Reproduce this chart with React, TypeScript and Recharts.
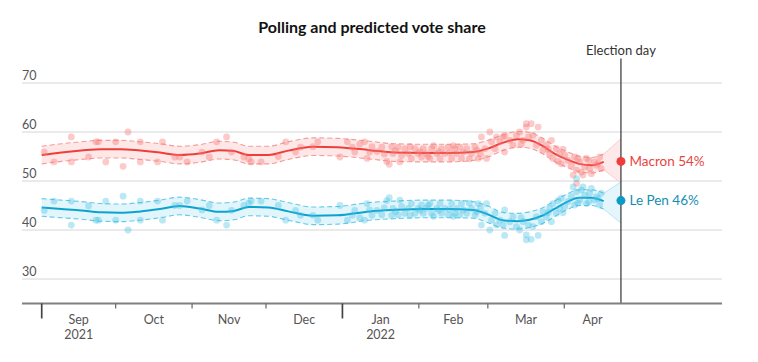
import React from 'react';
import { ComposedChart, Line, Area, XAxis, YAxis, CartesianGrid, ReferenceLine, ReferenceDot } from 'recharts';

// Days counted from 1 Sep 2021
const monthStarts = [0, 30, 61, 91, 122, 153, 181, 212];
const yearStarts = [0, 122];
const monthLabelDays = [15, 45.5, 76, 106.5, 137.5, 167, 196.5, 223.5];
const monthLabels = ['Sep', 'Oct', 'Nov', 'Dec', 'Jan', 'Feb', 'Mar', 'Apr'];
const yearLabels = ['2021', '', '', '', '2022', '', '', ''];
const yTicks = [30, 40, 50, 60, 70];
const electionDay = 235;

const trendDays = [0, 8, 16, 24, 32, 40, 48, 56, 64, 72, 78, 84, 92, 100, 110, 120, 133, 143, 155, 165, 175, 181, 187, 193, 198, 203, 208, 213, 218, 223, 228];
const macronTrend = [55.3, 55.8, 56.2, 56.5, 56.5, 56.2, 55.8, 55.3, 55.6, 56.3, 56.1, 55.3, 55.3, 56.2, 57.0, 56.9, 56.3, 55.8, 55.7, 55.7, 55.9, 56.6, 57.8, 58.5, 58.3, 57.2, 55.6, 54.4, 53.5, 53.2, 53.9];
const lePenTrend = [44.6, 44.3, 44.0, 43.6, 43.5, 43.8, 44.3, 44.9, 44.4, 43.7, 43.9, 44.7, 44.6, 43.8, 42.9, 43.0, 43.8, 44.1, 44.3, 44.3, 44.1, 43.2, 42.0, 41.8, 42.1, 42.9, 44.3, 45.7, 46.6, 46.6, 45.9];
const macronBandHalf = [1.8, 1.8, 1.8, 1.8, 1.8, 1.8, 1.8, 1.8, 1.8, 1.8, 1.8, 1.8, 1.8, 1.8, 1.8, 1.8, 1.8, 1.8, 1.8, 1.8, 1.7, 1.7, 1.6, 1.6, 1.6, 1.6, 1.6, 1.6, 1.6, 1.6, 1.6];
const lePenBandHalf = [1.8, 1.8, 1.8, 1.8, 1.8, 1.8, 1.8, 1.8, 1.8, 1.8, 1.8, 1.8, 1.8, 1.8, 1.8, 1.8, 1.8, 1.8, 1.8, 1.8, 1.7, 1.7, 1.6, 1.6, 1.6, 1.6, 1.6, 1.6, 1.6, 1.6, 1.6];

const pollDays = [1, 5, 12, 12, 19, 22, 23, 26, 30, 33, 35, 40, 40, 47, 49, 54, 56, 59, 65, 68, 71, 75, 77, 82, 84, 85, 89,
  96, 99, 103, 105, 110, 112, 121, 124, 126, 127, 129, 131, 132, 133, 134, 136, 138, 139, 140, 141, 142,
  142.5, 143.5, 144.6, 145.3, 146, 147.3, 148.7, 149.5, 150, 151.4, 152.7, 153.5, 154.1, 154.8, 156.1, 156.8, 157.5, 158.2, 159, 160.2, 161, 161.6, 162.2, 163.6, 164.9, 165.5, 166.3, 167, 167.6, 168.3, 169.6, 170.3, 171, 172.4, 173.5, 174.4, 175.8, 176.5, 177.1, 178, 178.4, 179.8, 180.5,
  181.8, 182.5, 183.9, 184.5, 185.9, 187.2, 187.8, 187.8, 189.9, 191.2, 192.6, 193.9, 194.5, 195.3, 196.6, 196.6, 197.5, 198.6, 199.3, 200.7, 201.4, 202.7, 203.4, 204.7, 205.5, 206.1, 206.8, 207.4, 208.8, 209.5, 210.1, 210.8, 211.5,
  212.2, 213.5, 214.9, 215.6, 216.2, 216.9, 217, 217.5, 218.3, 218.9, 219.6, 220.3, 221, 222, 222.3, 223, 224.3, 225, 225.8, 226.4, 227];
const macronPolls = [55.9, 53.9, 59.0, 53.9, 54.9, 58.0, 58.0, 53.9, 58.0, 53.0, 60.0, 58.0, 53.9, 53.9, 58.0, 54.9, 54.9, 53.9, 55.9, 54.9, 58.0, 59.0, 55.9, 54.9, 54.5, 53.9, 53.9,
  55.0, 58.0, 55.9, 56.9, 57.0, 58.0, 54.9, 58.0, 56.9, 55.9, 57.5, 58.0, 54.6, 55.9, 57.0, 56.0, 56.9, 55.5, 54.0, 53.4, 57.0,
  55.6, 56.2, 56.9, 53.9, 55.2, 56.6, 55.6, 57.0, 54.6, 56.6, 55.6, 56.0, 54.9, 56.6, 55.6, 55.0, 54.6, 56.6, 57.2, 55.6, 56.0, 54.6, 56.6, 55.6, 56.9, 55.8, 54.6, 57.2, 56.6, 55.6, 56.9, 54.6, 55.9, 56.6, 54.5, 55.6, 56.9, 56.3, 54.6, 55.5, 59.0, 56.6, 54.6,
  60.0, 58.0, 56.6, 59.0, 58.0, 59.0, 59.3, 55.9, 58.3, 57.3, 59.3, 60.0, 57.5, 58.3, 61.0, 61.7, 59.0, 61.7, 59.3, 57.3, 61.0, 58.3, 56.3, 57.3, 56.5, 55.6, 58.3, 54.6, 56.6, 54.0, 55.6, 53.5, 56.5,
  55.2, 54.2, 53.2, 51.2, 54.9, 52.2, 49.5, 54.5, 53.9, 51.8, 51.2, 52.9, 54.6, 54.2, 52.5, 51.5, 53.9, 53.2, 53.6, 54.9, 52.5];
const lePenPolls = [44.0, 45.9, 41.0, 45.9, 44.9, 42.0, 42.0, 45.9, 42.0, 46.9, 40.0, 42.0, 45.9, 45.9, 42.0, 45.0, 45.0, 45.9, 44.1, 45.0, 42.0, 41.0, 44.0, 45.0, 45.5, 45.9, 45.9,
  45.0, 42.0, 44.0, 43.0, 43.0, 42.0, 45.0, 42.0, 43.0, 44.0, 42.5, 42.0, 45.4, 44.1, 43.0, 44.0, 43.1, 44.5, 46.0, 46.6, 43.0,
  44.4, 43.8, 43.1, 46.1, 44.8, 43.4, 44.4, 43.0, 45.4, 43.4, 44.4, 44.0, 45.1, 43.4, 44.4, 45.0, 45.4, 43.4, 42.8, 44.4, 44.0, 45.4, 43.4, 44.4, 43.1, 44.2, 45.4, 42.8, 43.4, 44.4, 43.1, 45.4, 44.1, 43.4, 45.5, 44.4, 43.1, 43.7, 45.4, 44.5, 41.0, 43.4, 45.4,
  40.0, 42.0, 43.4, 41.0, 42.0, 41.0, 38.9, 44.1, 41.7, 42.7, 40.7, 40.0, 42.5, 41.7, 39.0, 38.0, 41.0, 38.1, 40.7, 42.7, 38.9, 41.7, 43.7, 42.7, 43.5, 44.4, 41.7, 45.4, 43.4, 46.0, 44.4, 46.5, 43.5,
  44.8, 45.8, 46.8, 48.8, 45.1, 47.8, 50.5, 45.5, 46.1, 48.2, 48.8, 47.1, 45.4, 45.8, 47.5, 48.5, 46.1, 46.8, 46.4, 45.1, 47.5];

const coneDays = [228, 235];
const macronConeLow = [52.3, 49.6];
const macronConeHigh = [55.5, 58.6];
const lePenConeLow = [44.3, 41.4];
const lePenConeHigh = [47.5, 49.8];

const finalNames = ['Macron', 'Le Pen'];
const finalValues = [54, 46];

const RED = '#ef3e39';
const RED_TEXT = '#e8443f';
const RED_DOT = '#f47b78';
const RED_BAND = '#fde3e3';
const RED_DASH = '#f59b99';
const BLUE = '#0aa3cf';
const BLUE_TEXT = '#168eb2';
const BLUE_DOT = '#3fc0e4';
const BLUE_BAND = '#ddf3fa';
const BLUE_DASH = '#62cbe7';

const trendData = trendDays.map((d, i) => ({
  d,
  mt: macronTrend[i],
  lt: lePenTrend[i],
  mBand: [macronTrend[i] - macronBandHalf[i], macronTrend[i] + macronBandHalf[i]],
  lBand: [lePenTrend[i] - lePenBandHalf[i], lePenTrend[i] + lePenBandHalf[i]],
  mLo: macronTrend[i] - macronBandHalf[i],
  mHi: macronTrend[i] + macronBandHalf[i],
  lLo: lePenTrend[i] - lePenBandHalf[i],
  lHi: lePenTrend[i] + lePenBandHalf[i],
}));
const macronPollData = pollDays.map((d, i) => ({ d, v: macronPolls[i] }));
const lePenPollData = pollDays.map((d, i) => ({ d, v: lePenPolls[i] }));
const coneData = coneDays.map((d, i) => ({
  d,
  mc: [macronConeLow[i], macronConeHigh[i]],
  lc: [lePenConeLow[i], lePenConeHigh[i]],
}));

const FONT = 'Lato, "Open Sans", sans-serif';

const XTick = (props: any) => {
  const { x, y, payload } = props;
  const v = payload.value;
  if (monthStarts.indexOf(v) >= 0) {
    const isYear = yearStarts.indexOf(v) >= 0;
    return (
      <line x1={x} x2={x} y1={y} y2={y + (isYear ? 15 : 5)} stroke={isYear ? '#444' : '#666'} strokeWidth={isYear ? 1.7 : 1.2} />
    );
  }
  const li = monthLabelDays.indexOf(v);
  if (li < 0) return <g />;
  return (
    <g>
      <text x={x} y={y + 20} textAnchor="middle" fontSize={12.5} fill="#555" fontFamily={FONT}>{monthLabels[li]}</text>
      {yearLabels[li] ? (
        <text x={x} y={y + 35.5} textAnchor="middle" fontSize={12.5} fill="#555" fontFamily={FONT}>{yearLabels[li]}</text>
      ) : null}
    </g>
  );
};

const YTick = (props: any) => {
  const { y, payload } = props;
  return (
    <text x={14} y={y - 3.5} textAnchor="start" fontSize={12.5} fill="#555" fontFamily={FONT}>{payload.value}</text>
  );
};

export default function App() {
  return (
    <div style={{ position: 'relative', width: 742, height: 346, fontFamily: FONT }}>
      <div style={{ position: 'absolute', left: 0, top: 11, width: 728, textAlign: 'center', fontSize: 16, lineHeight: '16px', fontWeight: 700, color: '#121212', fontFamily: FONT }}>
        Polling and predicted vote share
      </div>
      <ComposedChart width={742} height={346} margin={{ top: 50.5, right: 28, left: 13, bottom: 10.5 }}>
        <CartesianGrid vertical={false} stroke="#d6d6d6" horizontalValues={yTicks} />
        <XAxis
          type="number"
          dataKey="d"
          domain={[-8, 276]}
          ticks={[...monthStarts, ...monthLabelDays]}
          interval={0}
          allowDataOverflow
          axisLine={{ stroke: '#808080', strokeWidth: 2 }}
          tickLine={false}
          tickSize={0}
          tickMargin={0}
          height={40}
          tick={(p: any) => <XTick {...p} />}
        />
        <YAxis
          type="number"
          domain={[25, 75]}
          ticks={yTicks}
          interval={0}
          width={1}
          axisLine={false}
          tickLine={false}
          allowDataOverflow
          tick={(p: any) => <YTick {...p} />}
        />
        <Area data={trendData} dataKey="mBand" type="monotone" fill={RED_BAND} fillOpacity={0.85} stroke="none" isAnimationActive={false} />
        <Area data={trendData} dataKey="lBand" type="monotone" fill={BLUE_BAND} fillOpacity={0.85} stroke="none" isAnimationActive={false} />
        <Area data={coneData} dataKey="mc" type="linear" fill={RED_BAND} fillOpacity={0.8} stroke="#f8c4c3" strokeWidth={0.8} isAnimationActive={false} />
        <Area data={coneData} dataKey="lc" type="linear" fill={BLUE_BAND} fillOpacity={0.8} stroke="#a9e1f1" strokeWidth={0.8} isAnimationActive={false} />
        <Line data={macronPollData} dataKey="v" stroke="none" dot={{ r: 3.4, fill: RED_DOT, fillOpacity: 0.4, stroke: 'none' }} activeDot={false} isAnimationActive={false} />
        <Line data={lePenPollData} dataKey="v" stroke="none" dot={{ r: 3.4, fill: BLUE_DOT, fillOpacity: 0.36, stroke: 'none' }} activeDot={false} isAnimationActive={false} />
        <Line data={trendData} dataKey="mLo" type="monotone" stroke={RED_DASH} strokeWidth={1.1} strokeDasharray="5 3" dot={false} isAnimationActive={false} />
        <Line data={trendData} dataKey="mHi" type="monotone" stroke={RED_DASH} strokeWidth={1.1} strokeDasharray="5 3" dot={false} isAnimationActive={false} />
        <Line data={trendData} dataKey="lLo" type="monotone" stroke={BLUE_DASH} strokeWidth={1.1} strokeDasharray="5 3" dot={false} isAnimationActive={false} />
        <Line data={trendData} dataKey="lHi" type="monotone" stroke={BLUE_DASH} strokeWidth={1.1} strokeDasharray="5 3" dot={false} isAnimationActive={false} />
        <Line data={trendData} dataKey="mt" type="monotone" stroke={RED} strokeWidth={2} dot={false} isAnimationActive={false} />
        <Line data={trendData} dataKey="lt" type="monotone" stroke={BLUE} strokeWidth={2} dot={false} isAnimationActive={false} />
        <ReferenceLine
          x={electionDay}
          stroke="#333"
          strokeWidth={1.2}
          label={{ value: 'Election day', position: 'top', offset: 3.5, fill: '#333', fontSize: 13, fontFamily: FONT }}
        />
        <ReferenceDot
          x={electionDay}
          y={finalValues[0]}
          r={4.5}
          fill={RED}
          stroke="none"
          label={{ value: `${finalNames[0]} ${finalValues[0]}%`, position: 'right', offset: 4, fill: RED_TEXT, fontSize: 13.5, fontFamily: FONT }}
        />
        <ReferenceDot
          x={electionDay}
          y={finalValues[1]}
          r={4.5}
          fill="#0b9bc7"
          stroke="none"
          label={{ value: `${finalNames[1]} ${finalValues[1]}%`, position: 'right', offset: 4, fill: BLUE_TEXT, fontSize: 13.5, fontFamily: FONT }}
        />
      </ComposedChart>
    </div>
  );
}
